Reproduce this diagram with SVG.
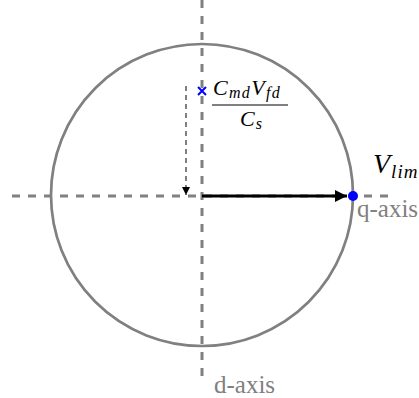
<svg xmlns="http://www.w3.org/2000/svg" width="419" height="398" viewBox="0 0 419 398">
<style>
.axis{stroke:#808080;stroke-width:3;stroke-dasharray:8 8;fill:none}
.lbl{font-family:"Liberation Serif",serif;fill:#808080;font-size:25px}
.math{font-family:"Liberation Serif",serif;font-style:italic;fill:#000}
</style>
<defs>
<marker id="ah" viewBox="0 0 10 10" refX="10" refY="5" markerWidth="4.5" markerHeight="4" markerUnits="strokeWidth" orient="auto"><path d="M0,0L10,5L0,10z" fill="#000"/></marker>
<marker id="ah2" viewBox="0 0 10 10" refX="10" refY="5" markerWidth="8" markerHeight="9" markerUnits="userSpaceOnUse" orient="auto"><path d="M0,0L10,5L0,10z" fill="#000"/></marker>
</defs>
<g id="axes">
<line class="axis" x1="12" y1="196" x2="388" y2="196"/>
<line class="axis" x1="202" y1="0" x2="202" y2="378"/>
<text class="lbl" x="357" y="217">q-axis</text>
<text class="lbl" x="214" y="393">d-axis</text>
</g>
<g id="circle">
<circle cx="202" cy="195" r="151" fill="none" stroke="#808080" stroke-width="2.7"/>
</g>
<g id="connectors">
<line x1="202" y1="196" x2="347" y2="196" stroke="#000" stroke-width="3" marker-end="url(#ah)"/>
<line x1="186" y1="86" x2="186" y2="195" stroke="#000" stroke-width="1" stroke-dasharray="5 4" marker-end="url(#ah2)"/>
</g>
<g id="vlim">
<circle cx="353" cy="196" r="5" fill="#0000ff"/>
<text class="math" x="373" y="173" font-size="28" letter-spacing="1">V<tspan font-size="19" dy="5">lim</tspan></text>
</g>
<g id="point">
<path d="M198,87L206,95M206,87L198,95" stroke="#0000ff" stroke-width="2"/>
<text class="math" x="213" y="95" font-size="22" letter-spacing="1.3">C<tspan font-size="16" dy="3">md</tspan><tspan dy="-3">V</tspan><tspan font-size="16" dy="3">fd</tspan></text>
<line x1="212" y1="105" x2="288" y2="105" stroke="#000" stroke-width="1"/>
<text class="math" x="240" y="126" font-size="22" letter-spacing="1">C<tspan font-size="16" dy="3">s</tspan></text>
</g>
</svg>
